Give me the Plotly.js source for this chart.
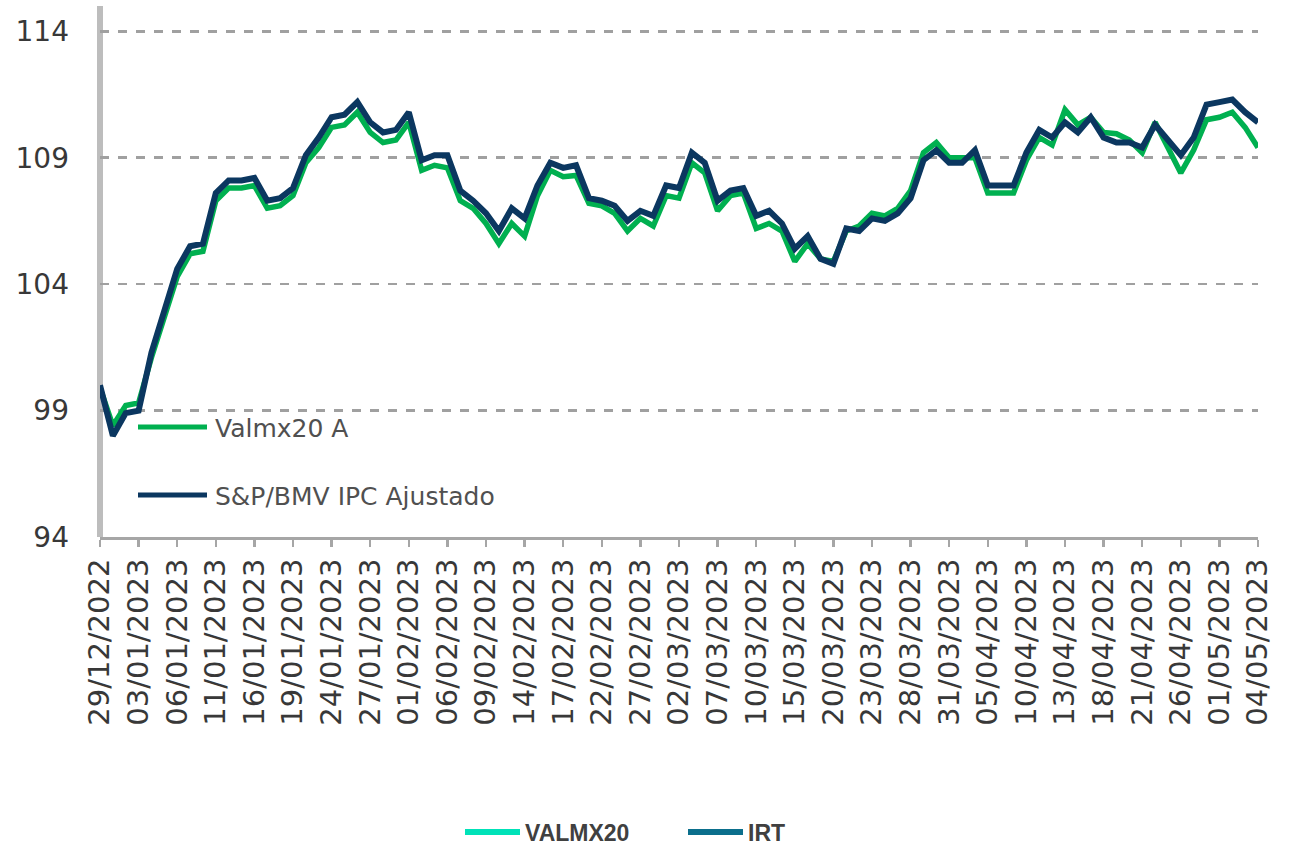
<!DOCTYPE html>
<html>
<head>
<meta charset="utf-8">
<script src="https://cdn.plot.ly/plotly-3.0.1.min.js"></script>
<style>html,body{margin:0;padding:0;background:#fff;}#chart{width:1300px;height:851px;}</style>
</head>
<body>
<div id="chart"></div>
<script>
// Trading days (categories)
const dates = [
"29/12/2022","30/12/2022",
"02/01/2023","03/01/2023","04/01/2023","05/01/2023","06/01/2023",
"09/01/2023","10/01/2023","11/01/2023","12/01/2023","13/01/2023",
"16/01/2023","17/01/2023","18/01/2023","19/01/2023","20/01/2023",
"23/01/2023","24/01/2023","25/01/2023","26/01/2023","27/01/2023",
"30/01/2023","31/01/2023",
"01/02/2023","02/02/2023","03/02/2023",
"06/02/2023","07/02/2023","08/02/2023","09/02/2023","10/02/2023",
"13/02/2023","14/02/2023","15/02/2023","16/02/2023","17/02/2023",
"20/02/2023","21/02/2023","22/02/2023","23/02/2023","24/02/2023",
"27/02/2023","28/02/2023",
"01/03/2023","02/03/2023","03/03/2023",
"06/03/2023","07/03/2023","08/03/2023","09/03/2023","10/03/2023",
"13/03/2023","14/03/2023","15/03/2023","16/03/2023","17/03/2023",
"20/03/2023","21/03/2023","22/03/2023","23/03/2023","24/03/2023",
"27/03/2023","28/03/2023","29/03/2023","30/03/2023","31/03/2023",
"03/04/2023","04/04/2023","05/04/2023","06/04/2023","07/04/2023",
"10/04/2023","11/04/2023","12/04/2023","13/04/2023","14/04/2023",
"17/04/2023","18/04/2023","19/04/2023","20/04/2023","21/04/2023",
"24/04/2023","25/04/2023","26/04/2023","27/04/2023","28/04/2023",
"01/05/2023","02/05/2023","03/05/2023","04/05/2023"
];

// Valmx20 A (green)
const valmx20 = [
99.9,98.4,99.2,99.3,101.1,102.7,104.3,105.2,105.3,107.3,
107.8,107.8,107.9,107.0,107.1,107.5,108.8,109.4,110.2,110.3,
110.8,110.0,109.6,109.7,110.4,108.5,108.7,108.6,107.3,107.0,
106.4,105.6,106.4,105.9,107.5,108.5,108.25,108.3,107.2,107.1,
106.8,106.1,106.6,106.3,107.5,107.4,108.8,108.4,106.9,107.5,
107.6,106.2,106.4,106.1,104.9,105.6,105.0,104.9,106.1,106.3,
106.8,106.7,107.0,107.7,109.2,109.6,109.0,109.0,109.0,107.6,
107.6,107.6,108.9,109.8,109.5,110.9,110.3,110.6,110.0,109.95,
109.7,109.2,110.4,109.4,108.4,109.3,110.5,110.6,110.8,110.2,
109.4
];

// S&P/BMV IPC Ajustado (navy)
const ipcAjustado = [
100.0,98.0,98.9,99.0,101.3,102.9,104.6,105.5,105.6,107.6,
108.1,108.1,108.2,107.3,107.4,107.8,109.1,109.8,110.6,110.7,
111.2,110.4,110.0,110.1,110.8,108.9,109.1,109.1,107.7,107.3,
106.8,106.1,107.0,106.6,107.9,108.8,108.6,108.7,107.4,107.3,
107.1,106.5,106.9,106.7,107.9,107.8,109.2,108.8,107.3,107.7,
107.8,106.7,106.9,106.4,105.4,105.9,105.0,104.8,106.2,106.1,
106.6,106.5,106.8,107.4,108.9,109.3,108.8,108.8,109.3,107.9,
107.9,107.9,109.2,110.1,109.8,110.4,110.0,110.6,109.8,109.6,
109.6,109.4,110.3,109.7,109.1,109.8,111.1,111.2,111.3,110.8,
110.4
];

const yTicks = [94, 99, 104, 109, 114];
const innerLegend = ["Valmx20 A", "S&P/BMV IPC Ajustado"];
const outerLegend = ["VALMX20", "IRT"];

const tickDates = dates.filter((d, i) => i % 3 === 0);

// pixel -> paper helpers (layout only)
const L = 100, R = 1258, T = 6, B = 537;
const px = x => (x - L) / (R - L);
const py = y => (B - y) / (B - T);

const GREEN = "#00b050", NAVY = "#0b3760";
const TXT = "#383838";

const traces = [
  {x: dates, y: valmx20, name: innerLegend[0], type: "scatter", mode: "lines",
   line: {color: GREEN, width: 5.5}, showlegend: false, hoverinfo: "x+y"},
  {x: dates, y: ipcAjustado, name: innerLegend[1], type: "scatter", mode: "lines",
   line: {color: NAVY, width: 6}, showlegend: false, hoverinfo: "x+y"}
];

const layout = {
  width: 1300, height: 851,
  margin: {l: L, r: 1300 - R, t: T, b: 851 - B},
  paper_bgcolor: "#ffffff",
  plot_bgcolor: "rgba(0,0,0,0)",
  showlegend: false,
  xaxis: {
    type: "category",
    range: [0, dates.length - 1],
    tickvals: tickDates,
    ticktext: tickDates,
    tickangle: -90,
    tickfont: {family: "DejaVu Sans", size: 29, color: TXT},
    ticks: "outside", ticklen: 7, tickwidth: 2.5, tickcolor: "#a6a6a6",
    showline: true, linecolor: "#a6a6a6", linewidth: 3,
    showgrid: false, zeroline: false, fixedrange: true
  },
  yaxis: {
    range: [94, 115],
    tickvals: yTicks,
    ticktext: yTicks.map(String),
    tickfont: {family: "DejaVu Sans", size: 28, color: TXT},
    ticks: "", ticklabelstandoff: 30,
    showline: false,
    showgrid: true, gridcolor: "#a0a0a0", gridwidth: 2.5, griddash: "9px,9px",
    zeroline: false, fixedrange: true
  },
  shapes: [
    {type: "line", xref: "paper", yref: "paper", x0: 0, x1: 0, y0: 0, y1: 1,
     line: {color: "#bdbdbd", width: 6}, layer: "below"},
    {type: "line", xref: "paper", yref: "paper", x0: px(138), x1: px(207), y0: py(427), y1: py(427),
     line: {color: GREEN, width: 5}},
    {type: "line", xref: "paper", yref: "paper", x0: px(138), x1: px(207), y0: py(495), y1: py(495),
     line: {color: NAVY, width: 5}},
    {type: "line", xref: "paper", yref: "paper", x0: px(465), x1: px(520), y0: py(832), y1: py(832),
     line: {color: "#00e2b8", width: 6}},
    {type: "line", xref: "paper", yref: "paper", x0: px(688), x1: px(743), y0: py(832), y1: py(832),
     line: {color: "#0b6f8c", width: 6}}
  ],
  annotations: [
    {xref: "paper", yref: "paper", x: px(213), y: py(428), xanchor: "left", yanchor: "middle",
     text: innerLegend[0], showarrow: false, font: {family: "DejaVu Sans", size: 25, color: "#505050"}},
    {xref: "paper", yref: "paper", x: px(213), y: py(496), xanchor: "left", yanchor: "middle",
     text: innerLegend[1], showarrow: false, font: {family: "DejaVu Sans", size: 25, color: "#505050"}},
    {xref: "paper", yref: "paper", x: px(523), y: py(833), xanchor: "left", yanchor: "middle",
     text: "<b>" + outerLegend[0] + "</b>", showarrow: false, font: {family: "Liberation Sans", size: 23, color: "#404040"}},
    {xref: "paper", yref: "paper", x: px(746), y: py(833), xanchor: "left", yanchor: "middle",
     text: "<b>" + outerLegend[1] + "</b>", showarrow: false, font: {family: "Liberation Sans", size: 23, color: "#404040"}}
  ]
};

Plotly.newPlot("chart", traces, layout, {displayModeBar: false, staticPlot: true});
</script>
</body>
</html>
